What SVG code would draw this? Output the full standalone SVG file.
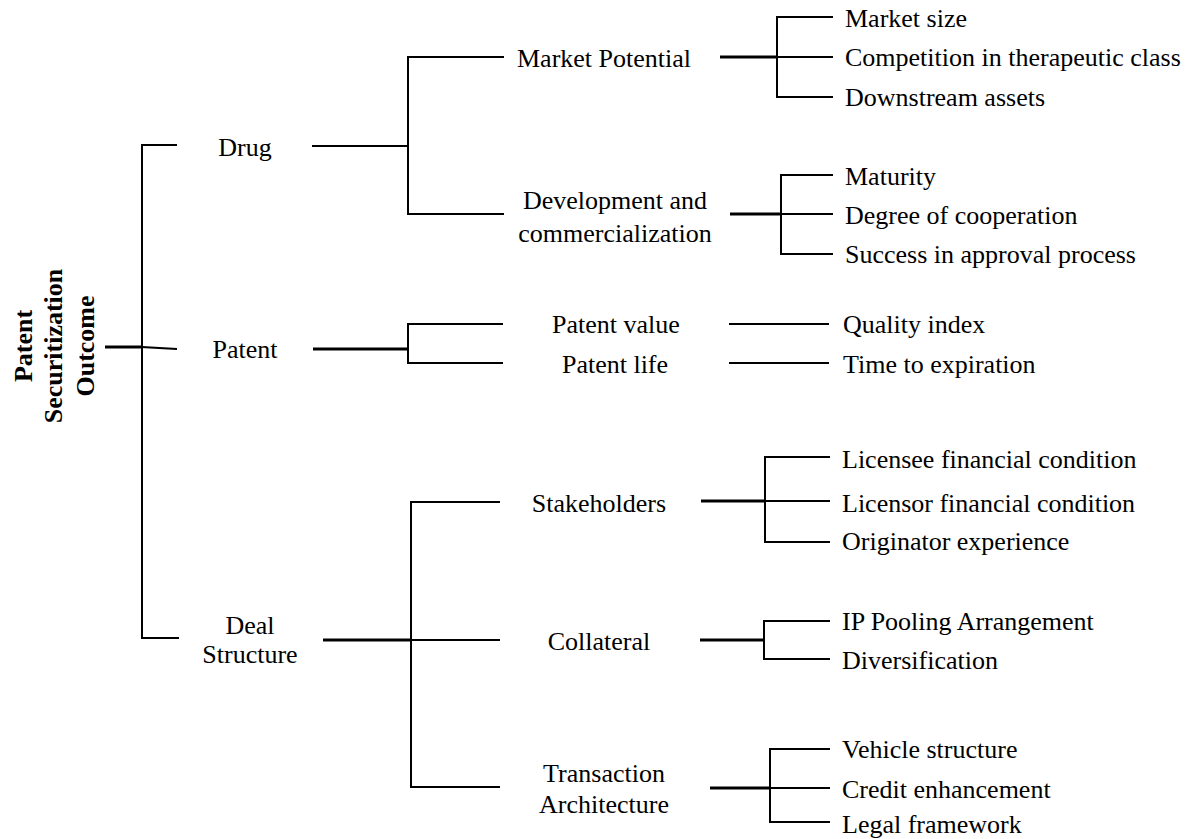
<svg xmlns="http://www.w3.org/2000/svg" width="1194" height="839" viewBox="0 0 1194 839">
<style>
text{font-family:"Liberation Serif","Times New Roman",serif;font-size:26px;fill:#000}
.c{text-anchor:middle}
.b{font-weight:bold}
.l{stroke:#000;stroke-width:2;fill:none;stroke-linecap:square}
.t{stroke:#000;stroke-width:3;fill:none}
</style>
<rect width="1194" height="839" fill="#fff"/>
<g id="connectors">
<line class="t" x1="105" y1="347" x2="142" y2="347"/>
<path class="l" d="M176 145H142V638H178"/>
<line class="l" x1="142" y1="347" x2="176" y2="349"/>
<line class="l" x1="313" y1="146" x2="408" y2="146"/>
<path class="l" d="M503 57H408V214H503"/>
<line class="t" x1="720" y1="57" x2="777" y2="57"/>
<path class="l" d="M832 17H777V97H832M777 57H832"/>
<line class="t" x1="730" y1="214" x2="781" y2="214"/>
<path class="l" d="M832 175H781V254H832M781 214H832"/>
<line class="t" x1="313" y1="349" x2="408" y2="349"/>
<path class="l" d="M502 324H408V363H502"/>
<line class="l" x1="730" y1="324" x2="828" y2="324"/>
<line class="l" x1="730" y1="363" x2="828" y2="363"/>
<line class="t" x1="323" y1="640" x2="411" y2="640"/>
<path class="l" d="M499 502H411V787H499M411 640H499"/>
<line class="t" x1="701" y1="501" x2="765" y2="501"/>
<path class="l" d="M829 457H765V542H829M765 501H829"/>
<line class="t" x1="700" y1="640" x2="764" y2="640"/>
<path class="l" d="M829 621H764V659H829"/>
<line class="t" x1="710" y1="788" x2="770" y2="788"/>
<path class="l" d="M829 749H770V822H829M770 788H829"/>
</g>
<g id="root">
<text class="c b" transform="translate(32,346) rotate(-90)">Patent</text>
<text class="c b" transform="translate(62,346) rotate(-90)">Securitization</text>
<text class="c b" transform="translate(94,346) rotate(-90)">Outcome</text>
</g>
<g id="drug"><text class="c" x="245" y="156">Drug</text></g>
<g id="patent"><text class="c" x="245" y="358">Patent</text></g>
<g id="deal"><text class="c" x="250" y="634">Deal</text><text class="c" x="250" y="663">Structure</text></g>
<g id="market-potential"><text class="c" x="604" y="67">Market Potential</text></g>
<g id="development"><text class="c" x="615" y="209">Development and</text><text class="c" x="615" y="242">commercialization</text></g>
<g id="patent-value"><text class="c" x="616" y="333">Patent value</text></g>
<g id="patent-life"><text class="c" x="615" y="373">Patent life</text></g>
<g id="stakeholders"><text class="c" x="599" y="512">Stakeholders</text></g>
<g id="collateral"><text class="c" x="599" y="650">Collateral</text></g>
<g id="transaction"><text class="c" x="604" y="782">Transaction</text><text class="c" x="604" y="813">Architecture</text></g>
<g id="leaves">
<text x="845" y="27">Market size</text>
<text x="845" y="66">Competition in therapeutic class</text>
<text x="845" y="106">Downstream assets</text>
<text x="845" y="185">Maturity</text>
<text x="845" y="224">Degree of cooperation</text>
<text x="845" y="263">Success in approval process</text>
<text x="843" y="333">Quality index</text>
<text x="843" y="373">Time to expiration</text>
<text x="842" y="468">Licensee financial condition</text>
<text x="842" y="512">Licensor financial condition</text>
<text x="842" y="550">Originator experience</text>
<text x="842" y="630">IP Pooling Arrangement</text>
<text x="842" y="669">Diversification</text>
<text x="842" y="758">Vehicle structure</text>
<text x="842" y="798">Credit enhancement</text>
<text x="842" y="833">Legal framework</text>
</g>
</svg>
